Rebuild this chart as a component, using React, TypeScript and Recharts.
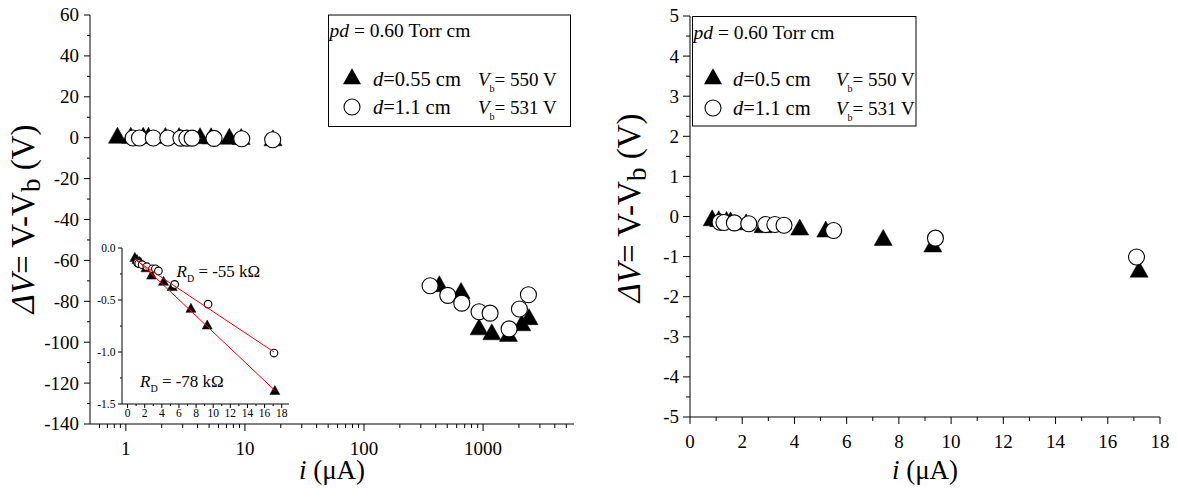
import React from 'react';
import { ScatterChart, Scatter, XAxis, YAxis } from 'recharts';

const FONT = "'Liberation Serif', 'Times New Roman', serif";

// ---- data: i (µA), ΔV (V) ----
const triI = [0.85, 1.1, 1.4, 1.55, 2.15, 2.8, 4.2, 5.2, 7.4, 9.3, 17.2];
const triDV = [-0.1, -0.12, -0.14, -0.15, -0.2, -0.27, -0.33, -0.38, -0.59, -0.75, -1.38];
const circI = [1.15, 1.3, 1.7, 2.25, 2.9, 3.25, 3.6, 5.5, 9.4, 17.1];
const circDV = [-0.14, -0.15, -0.16, -0.18, -0.2, -0.2, -0.22, -0.35, -0.54, -1.01];
const triHighI = [429, 653, 925, 1183, 1633, 2112, 2431];
const triHighDV = [-72.7, -76, -93.8, -96.2, -97, -91.8, -88.8];
const circHighI = [359, 505, 662, 925, 1145, 1653, 2019, 2403];
const circHighDV = [-72.4, -77.1, -80.9, -85.1, -85.8, -93.5, -83.8, -76.8];
const fitTriI = [0.9, 17.2];
const fitTriDV = [-0.1, -1.37];
const fitCircI = [1.0, 17.1];
const fitCircDV = [-0.12, -1.0];

// ---- ticks ----
const logMajor = [1, 10, 100, 1000];
const logMinor = [0.6, 0.7, 0.8, 0.9, 2, 3, 4, 5, 6, 7, 8, 9, 20, 30, 40, 50, 60, 70, 80, 90, 200, 300, 400, 500, 600, 700, 800, 900, 2000, 3000, 4000, 5000];
const leftYMajor = [-140, -120, -100, -80, -60, -40, -20, 0, 20, 40, 60];
const leftYMinor = [-130, -110, -90, -70, -50, -30, -10, 10, 30, 50];
const linXMajor = [0, 2, 4, 6, 8, 10, 12, 14, 16, 18];
const linXMinor = [1, 3, 5, 7, 9, 11, 13, 15, 17];
const rightYMajor = [-5, -4, -3, -2, -1, 0, 1, 2, 3, 4, 5];
const rightYMinor = [-4.5, -3.5, -2.5, -1.5, -0.5, 0.5, 1.5, 2.5, 3.5, 4.5];
const insetYMajor = [0, -0.5, -1, -1.5];
const insetYMinor = [-0.25, -0.75, -1.25];

const pts = (xs: number[], ys: number[]) => xs.map((x, i) => ({ x, y: ys[i] }));

type TO = { majors: number[]; major: number; minor: number; fs?: number; off?: number; fmt?: (v: number) => string; label?: boolean };
const isMaj = (arr: number[], v: number) => arr.some((m) => Math.abs(m - v) < 1e-9);

const bottomTick = (o: TO) => (p: any) => {
  const v = p.payload.value;
  const m = isMaj(o.majors, v);
  return (
    <g>
      <line x1={p.x} x2={p.x} y1={p.y} y2={p.y + (m ? o.major : o.minor)} stroke="#000" strokeWidth={1} />
      {m && o.label ? (
        <text x={p.x} y={p.y + (o.off || 0)} textAnchor="middle" fontSize={o.fs} fontFamily={FONT} fill="#000">
          {o.fmt ? o.fmt(v) : String(v)}
        </text>
      ) : null}
    </g>
  );
};
const topTick = (o: TO) => (p: any) => {
  const v = p.payload.value;
  const m = isMaj(o.majors, v);
  return <line x1={p.x} x2={p.x} y1={p.y} y2={p.y + (m ? o.major : o.minor)} stroke="#000" strokeWidth={1} />;
};
const leftTick = (o: TO) => (p: any) => {
  const v = p.payload.value;
  const m = isMaj(o.majors, v);
  return (
    <g>
      <line x1={p.x - (m ? o.major : o.minor)} x2={p.x} y1={p.y} y2={p.y} stroke="#000" strokeWidth={1} />
      {m && o.label ? (
        <text x={p.x - (o.off || 0)} y={p.y + (o.fs || 10) * 0.34} textAnchor="end" fontSize={o.fs} fontFamily={FONT} fill="#000">
          {o.fmt ? o.fmt(v) : String(v)}
        </text>
      ) : null}
    </g>
  );
};
const rightTick = (o: TO) => (p: any) => {
  const v = p.payload.value;
  const m = isMaj(o.majors, v);
  return <line x1={p.x - (m ? o.major : o.minor)} x2={p.x} y1={p.y} y2={p.y} stroke="#000" strokeWidth={1} />;
};

const triPoly = (cx: number, cy: number, w: number, h: number) =>
  `${cx},${cy - (2 * h) / 3} ${cx - w / 2},${cy + h / 3} ${cx + w / 2},${cy + h / 3}`;

const triShape = (w: number, h: number) => (p: any) => <polygon points={triPoly(p.cx, p.cy, w, h)} fill="#000" stroke="#000" strokeWidth={0.5} />;
const circShape = (r: number) => (p: any) => <circle cx={p.cx} cy={p.cy} r={r} fill="#fff" stroke="#000" strokeWidth={1.1} />;
const noShape = () => <g />;

const axisLine = { stroke: '#000', strokeWidth: 1 };

function LeftChart() {
  const bt = bottomTick({ majors: logMajor, major: 7, minor: 4, fs: 19, off: 30.5, label: true });
  const tt = topTick({ majors: logMajor, major: 7, minor: 4 });
  const lt = leftTick({ majors: leftYMajor, major: 6, minor: 3, fs: 19, off: 11, label: true });
  const rt = rightTick({ majors: leftYMajor, major: 6, minor: 3 });
  const xt = [...logMajor, ...logMinor];
  const yt = [...leftYMajor, ...leftYMinor];
  return (
    <div style={{ position: 'absolute', left: 0, top: 0 }}>
      <ScatterChart width={600} height={488} margin={{ top: 15, right: 26, bottom: 0, left: 0 }}>
        <XAxis xAxisId="b" dataKey="x" type="number" scale="log" domain={[0.5, 5800]} allowDataOverflow ticks={xt} interval={0} tickSize={0} tickMargin={0} tickLine={false} axisLine={axisLine} height={64} tick={bt} />
        <XAxis xAxisId="t" orientation="top" type="number" scale="log" domain={[0.5, 5800]} allowDataOverflow ticks={xt} interval={0} tickSize={0} tickMargin={0} tickLine={false} axisLine={axisLine} height={0} tick={tt} />
        <YAxis yAxisId="l" dataKey="y" type="number" domain={[-140, 60]} allowDataOverflow ticks={yt} interval={0} tickSize={0} tickMargin={0} tickLine={false} axisLine={axisLine} width={90} tick={lt} />
        <YAxis yAxisId="r" orientation="right" type="number" domain={[-140, 60]} allowDataOverflow ticks={yt} interval={0} tickSize={0} tickMargin={0} tickLine={false} axisLine={axisLine} width={0} tick={rt} />
        <Scatter xAxisId="b" yAxisId="l" data={[...pts(triI, triDV), ...pts(triHighI, triHighDV)]} shape={triShape(18, 16)} isAnimationActive={false} />
        <Scatter xAxisId="b" yAxisId="l" data={[...pts(circI, circDV), ...pts(circHighI, circHighDV)]} shape={circShape(8)} isAnimationActive={false} />
      </ScatterChart>
    </div>
  );
}

function InsetChart() {
  const bt = bottomTick({ majors: linXMajor, major: 4, minor: 2, fs: 11.5, off: 13, label: true });
  const tt = topTick({ majors: linXMajor, major: 0, minor: 0 });
  const lt = leftTick({ majors: insetYMajor, major: 4, minor: 2, fs: 11.5, off: 6.5, label: true, fmt: (v) => v.toFixed(1) });
  const rt = rightTick({ majors: insetYMajor, major: 4, minor: 2 });
  const xt = [...linXMajor, ...linXMinor];
  const yt = [...insetYMajor, ...insetYMinor];
  return (
    <div style={{ position: 'absolute', left: 95, top: 240 }}>
      <ScatterChart width={200} height={185} margin={{ top: 8, right: 6, bottom: 0, left: 0 }}>
        <XAxis xAxisId="b" dataKey="x" type="number" domain={[-0.65, 18.85]} allowDataOverflow ticks={xt} interval={0} tickSize={0} tickMargin={0} tickLine={false} axisLine={axisLine} height={21} tick={bt} />
        <XAxis xAxisId="t" orientation="top" type="number" domain={[-0.65, 18.85]} allowDataOverflow ticks={xt} interval={0} tickSize={0} tickMargin={0} tickLine={false} axisLine={axisLine} height={0} tick={tt} />
        <YAxis yAxisId="l" dataKey="y" type="number" domain={[-1.5, 0]} allowDataOverflow ticks={yt} interval={0} tickSize={0} tickMargin={0} tickLine={false} axisLine={axisLine} width={27} tick={lt} />
        <YAxis yAxisId="r" orientation="right" type="number" domain={[-1.5, 0]} allowDataOverflow ticks={yt} interval={0} tickSize={0} tickMargin={0} tickLine={false} axisLine={axisLine} width={0} tick={rt} />
        <Scatter xAxisId="b" yAxisId="l" data={pts(triI, triDV)} shape={triShape(10, 9)} isAnimationActive={false} />
        <Scatter xAxisId="b" yAxisId="l" data={pts(circI, circDV)} shape={circShape(3.8)} isAnimationActive={false} />
        <Scatter xAxisId="b" yAxisId="l" data={pts(fitCircI, fitCircDV)} line={{ stroke: '#ff0000', strokeWidth: 1 }} lineType="joint" shape={noShape} isAnimationActive={false} />
        <Scatter xAxisId="b" yAxisId="l" data={pts(fitTriI, fitTriDV)} line={{ stroke: '#ff0000', strokeWidth: 1 }} lineType="joint" shape={noShape} isAnimationActive={false} />
      </ScatterChart>
    </div>
  );
}

function RightChart() {
  const bt = bottomTick({ majors: linXMajor, major: 7, minor: 4, fs: 19, off: 30.5, label: true });
  const tt = topTick({ majors: linXMajor, major: 7, minor: 4 });
  const lt = leftTick({ majors: rightYMajor, major: 7, minor: 4, fs: 19, off: 11, label: true });
  const rt = rightTick({ majors: rightYMajor, major: 7, minor: 4 });
  const xt = [...linXMajor, ...linXMinor];
  const yt = [...rightYMajor, ...rightYMinor];
  return (
    <div style={{ position: 'absolute', left: 600, top: 0 }}>
      <ScatterChart width={578} height={488} margin={{ top: 16, right: 18, bottom: 0, left: 0 }}>
        <XAxis xAxisId="b" dataKey="x" type="number" domain={[0, 18]} allowDataOverflow ticks={xt} interval={0} tickSize={0} tickMargin={0} tickLine={false} axisLine={axisLine} height={71} tick={bt} />
        <XAxis xAxisId="t" orientation="top" type="number" domain={[0, 18]} allowDataOverflow ticks={xt} interval={0} tickSize={0} tickMargin={0} tickLine={false} axisLine={axisLine} height={0} tick={tt} />
        <YAxis yAxisId="l" dataKey="y" type="number" domain={[-5, 5]} allowDataOverflow ticks={yt} interval={0} tickSize={0} tickMargin={0} tickLine={false} axisLine={axisLine} width={90} tick={lt} />
        <YAxis yAxisId="r" orientation="right" type="number" domain={[-5, 5]} allowDataOverflow ticks={yt} interval={0} tickSize={0} tickMargin={0} tickLine={false} axisLine={axisLine} width={0} tick={rt} />
        <Scatter xAxisId="b" yAxisId="l" data={pts(triI, triDV)} shape={triShape(18, 16)} isAnimationActive={false} />
        <Scatter xAxisId="b" yAxisId="l" data={pts(circI, circDV)} shape={circShape(8)} isAnimationActive={false} />
      </ScatterChart>
    </div>
  );
}

function YTitle({ x, y }: { x: number; y: number }) {
  return (
    <text x={x} y={y} transform={`rotate(-90 ${x} ${y})`} textAnchor="middle" fontSize={33} fontFamily={FONT} fill="#000">
      <tspan fontStyle="italic">ΔV</tspan>
      <tspan>= V-V</tspan>
      <tspan fontSize={27} dy={6}>b</tspan>
      <tspan dy={-6}> (V)</tspan>
    </text>
  );
}

function XTitle({ x, y }: { x: number; y: number }) {
  return (
    <text x={x} y={y} textAnchor="middle" fontSize={27} fontFamily={FONT} fill="#000">
      <tspan fontStyle="italic">i</tspan>
      <tspan> (μA)</tspan>
    </text>
  );
}

function VbText({ x, y, val, fs }: { x: number; y: number; val: string; fs: number }) {
  return (
    <text x={x} y={y} fontSize={fs} fontFamily={FONT} fill="#000">
      <tspan fontStyle="italic">V</tspan>
      <tspan fontSize={10} dy={6}>b</tspan>
      <tspan dy={-6}>{val}</tspan>
    </text>
  );
}

function LegendBox(props: { x: number; y: number; w: number; h: number; triLabel: string; vx: number; rows: number[]; mx: number; tx: number }) {
  const { x, y, w, h, triLabel, vx, rows, mx, tx } = props;
  const fs = 20.5;
  const vfs = 19;
  return (
    <g>
      <rect x={x} y={y} width={w} height={h} fill="#fff" stroke="#000" strokeWidth={1} />
      <text x={x + 1} y={y + 22} fontSize={19.5} fontFamily={FONT} fill="#000">
        <tspan fontStyle="italic">pd</tspan>
        <tspan> = 0.60 Torr cm</tspan>
      </text>
      <polygon points={triPoly(mx, rows[0] - 7, 18, 16)} fill="#000" />
      <text x={tx} y={rows[0]} fontSize={fs} fontFamily={FONT} fill="#000">
        <tspan fontStyle="italic">d</tspan>
        <tspan>{triLabel}</tspan>
      </text>
      <VbText x={vx} y={rows[0]} val="= 550 V" fs={vfs} />
      <circle cx={mx} cy={rows[1] - 7} r={8} fill="#fff" stroke="#000" strokeWidth={1.1} />
      <text x={tx} y={rows[1]} fontSize={fs} fontFamily={FONT} fill="#000">
        <tspan fontStyle="italic">d</tspan>
        <tspan>=1.1 cm</tspan>
      </text>
      <VbText x={vx} y={rows[1]} val="= 531 V" fs={vfs} />
    </g>
  );
}

function RD({ x, y, val }: { x: number; y: number; val: string }) {
  return (
    <text x={x} y={y} fontSize={17} fontFamily={FONT} fill="#000">
      <tspan fontStyle="italic">R</tspan>
      <tspan fontSize={10} dy={5}>D</tspan>
      <tspan dy={-5}>{val}</tspan>
    </text>
  );
}

function Overlay() {
  return (
    <svg width={1178} height={488} style={{ position: 'absolute', left: 0, top: 0, pointerEvents: 'none' }}>
      <YTitle x={34} y={219} />
      <YTitle x={640} y={208} />
      <XTitle x={332} y={479} />
      <XTitle x={925} y={479} />
      <LegendBox x={328.5} y={15} w={242} h={111.5} triLabel="=0.55 cm" vx={478} rows={[86, 114]} mx={352} tx={373} />
      <LegendBox x={692.5} y={16.5} w={223.5} h={109.5} triLabel="=0.5 cm" vx={836} rows={[86, 115]} mx={713} tx={733} />
      <RD x={176.5} y={276.5} val=" = -55 kΩ" />
      <RD x={140} y={386.5} val=" = -78 kΩ" />
    </svg>
  );
}

export default function App() {
  return (
    <div style={{ position: 'absolute', left: 0, top: 0, width: 1178, height: 488, background: '#fff', fontFamily: FONT }}>
      <LeftChart />
      <RightChart />
      <InsetChart />
      <Overlay />
    </div>
  );
}
